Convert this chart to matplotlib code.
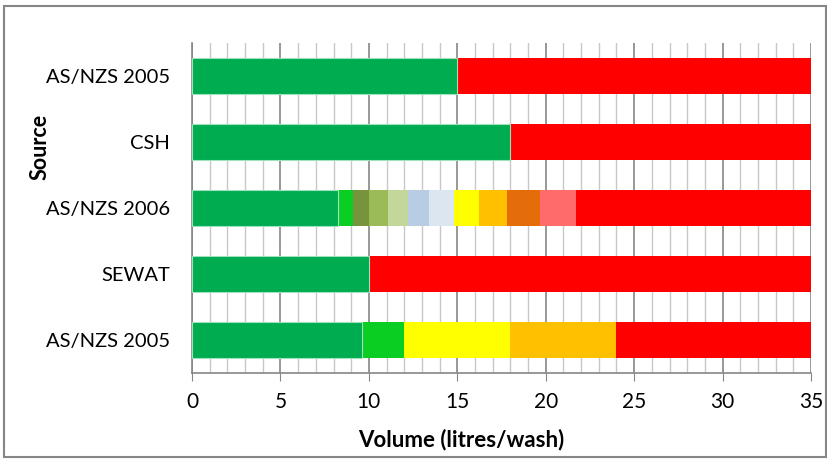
import matplotlib
matplotlib.use("Agg")
import matplotlib.pyplot as plt
import numpy as np
from matplotlib.patches import Rectangle
from matplotlib.ticker import MultipleLocator

plt.rcParams['font.family'] = ['Lato', 'DejaVu Sans']

# rows from bottom to top
sources = ["AS/NZS 2005", "SEWAT", "AS/NZS 2006", "CSH", "AS/NZS 2005"]

# segment end points (litres/wash) for each row
ends_asnzs2005_low = [9.6, 12, 18, 24, 35]
ends_sewat = [10, 35]
ends_asnzs2006 = [8.25, 9.1, 10.0, 11.1, 12.2, 13.4, 14.8, 16.2, 17.8, 19.7, 21.7, 35]
ends_csh = [18, 35]
ends_asnzs2005_top = [15, 35]

col_asnzs2005_low = ["#00ac50", "#0acf22", "#ffff00", "#ffc000", "#ff0000"]
col_sewat = ["#00ac50", "#ff0000"]
col_asnzs2006 = ["#00ac50", "#0acf22", "#77933c", "#9bbb59", "#c4d79b",
                 "#b8cce4", "#dce6f1", "#ffff00", "#ffc000", "#e46c0a",
                 "#ff6b6b", "#ff0000"]
col_csh = ["#00ac50", "#ff0000"]
col_asnzs2005_top = ["#00ac50", "#ff0000"]

rows = [(ends_asnzs2005_low, col_asnzs2005_low),
        (ends_sewat, col_sewat),
        (ends_asnzs2006, col_asnzs2006),
        (ends_csh, col_csh),
        (ends_asnzs2005_top, col_asnzs2005_top)]

fig = plt.figure(figsize=(8.28, 4.59), dpi=100)
ax = fig.add_axes([0.2319, 0.1874, 0.7476, 0.7189])

for i, (ends, cols) in enumerate(rows):
    ends = np.array(ends, dtype=float)
    lefts = np.concatenate([[0], ends[:-1]])
    widths = ends - lefts
    ax.barh([i] * len(widths), widths, left=lefts, height=0.56,
            color=cols, zorder=3)
    # thin light edge on the first green block
    ax.barh(i, widths[0], left=0, height=0.56, color=cols[0],
            edgecolor="#9fe0bd", linewidth=0.8, zorder=3)

ax.set_xlim(0, 35)
ax.set_ylim(-0.5, 4.5)
ax.set_yticks(range(len(sources)))
ax.set_yticklabels(sources, fontsize=14.5)
ax.xaxis.set_major_locator(MultipleLocator(5))
ax.xaxis.set_minor_locator(MultipleLocator(1))
ax.tick_params(axis="x", which="major", labelsize=15, length=6,
               color="#868686", pad=8)
ax.tick_params(axis="x", which="minor", length=0)
ax.tick_params(axis="y", length=0, pad=16)
ax.grid(axis="x", which="major", color="#868686", linewidth=1.2, zorder=0)
ax.grid(axis="x", which="minor", color="#c8c8c8", linewidth=1.0, zorder=0)

for side in ["top", "right"]:
    ax.spines[side].set_visible(False)
for side in ["left", "bottom"]:
    ax.spines[side].set_color("#868686")
    ax.spines[side].set_linewidth(1.2)

ax.set_xlabel("Volume (litres/wash)", fontsize=16, fontweight="bold")
ax.xaxis.set_label_coords(0.435, -0.168)
ax.set_ylabel("Source", fontsize=15.5, fontweight="bold")
ax.yaxis.set_label_coords(-0.229, 0.685)

# chart frame
fig.patches.append(Rectangle((0.005, 0.004), 0.993, 0.983,
                             transform=fig.transFigure, fill=False,
                             edgecolor="#868686", linewidth=1.5))

fig.savefig("out.png", dpi=100)
